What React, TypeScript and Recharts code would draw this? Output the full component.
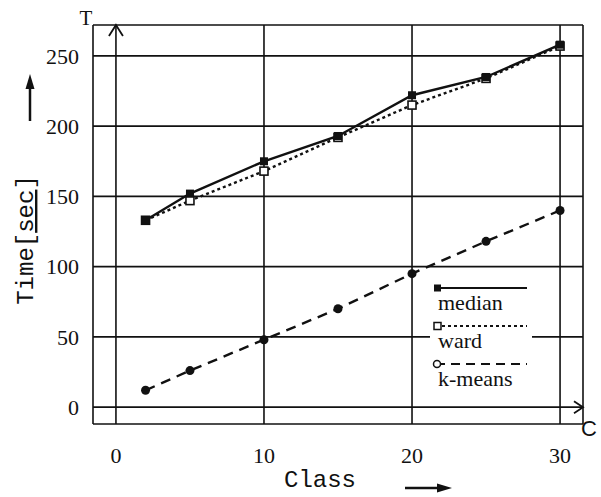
import React from 'react';
import {
  LineChart,
  Line,
  XAxis,
  YAxis,
  CartesianGrid,
  ReferenceDot,
  Legend
} from 'recharts';

const classes = [2, 5, 10, 15, 20, 25, 30];
const median = [133, 152, 175, 193, 222, 235, 258];
const ward = [133, 147, 168, 192, 215, 234, 257];
const kmeans = [12, 26, 48, 70, 95, 118, 140];
const xTicks = [0, 10, 20, 30];
const yTicks = [0, 50, 100, 150, 200, 250];
const seriesNames = ['median', 'ward', 'k-means'];

const data = classes.map((c, i) => ({
  c,
  median: median[i],
  ward: ward[i],
  kmeans: kmeans[i]
}));

const INK = '#111';
const SERIF = '"Liberation Serif", "Times New Roman", serif';
const MONO = '"Liberation Mono", "Courier New", monospace';

const FilledSquare = (props: any) => {
  const { cx, cy, index } = props;
  if (cx == null || cy == null) return null;
  return <rect key={index} x={cx - 4} y={cy - 4} width={8} height={8} fill={INK} />;
};

const OpenSquare = (props: any) => {
  const { cx, cy, index } = props;
  if (cx == null || cy == null) return null;
  return <rect key={index} x={cx - 4} y={cy - 4} width={8} height={8} fill="#fff" stroke={INK} strokeWidth={1.6} />;
};

const Circle = (props: any) => {
  const { cx, cy, index } = props;
  if (cx == null || cy == null) return null;
  return <circle key={index} cx={cx} cy={cy} r={4.5} fill={INK} />;
};

const UpChevron = (p: any) => (
  <path d={`M${p.cx - 7},${p.cy + 11} L${p.cx},${p.cy} L${p.cx + 7},${p.cy + 11}`} fill="none" stroke={INK} strokeWidth={1.8} />
);

const RightChevron = (p: any) => (
  <path d={`M${p.cx - 9},${p.cy - 6} L${p.cx},${p.cy} L${p.cx - 9},${p.cy + 6}`} fill="none" stroke={INK} strokeWidth={1.8} />
);

const YTitle = () => (
  <g>
    <text x={86} y={25} textAnchor="middle" fontFamily={SERIF} fontSize={21} fill={INK}>T</text>
    <text
      x={33}
      y={240}
      transform="rotate(-90 33 240)"
      textAnchor="middle"
      fontFamily={MONO}
      fontSize={24}
      fill={INK}
    >
      Time[<tspan textDecoration="underline">sec</tspan>]
    </text>
    <line x1={30} y1={121} x2={30} y2={86} stroke={INK} strokeWidth={2.5} />
    <path d="M30,74 L25.5,89 L34.5,89 Z" fill={INK} />
  </g>
);

const XTitle = () => (
  <g>
    <text x={320} y={487} textAnchor="middle" fontFamily={MONO} fontSize={24} fill={INK}>Class</text>
    <line x1={405} y1={488} x2={440} y2={488} stroke={INK} strokeWidth={2.5} />
    <path d="M452,488 L437,483.5 L437,492.5 Z" fill={INK} />
    <text x={589} y={436} textAnchor="middle" fontFamily='"Liberation Sans", Arial, sans-serif' fontSize={22} fill={INK}>C</text>
  </g>
);

const LegendBox = () => {
  const samples = [
    { dash: undefined, marker: 'filled' },
    { dash: '3 3', marker: 'open' },
    { dash: '9 6', marker: 'circle' }
  ];
  return (
    <svg width={102} height={116} style={{ display: 'block', background: '#fff' }}>
      {seriesNames.map((name, i) => {
        const ly = 10 + i * 38;
        const s = samples[i];
        return (
          <g key={name}>
            <line x1={6} y1={ly} x2={97} y2={ly} stroke={INK} strokeWidth={2} strokeDasharray={s.dash} />
            {s.marker === 'filled' && <rect x={4} y={ly - 3.5} width={7} height={7} fill={INK} />}
            {s.marker === 'open' && <rect x={4} y={ly - 3.5} width={7} height={7} fill="#fff" stroke={INK} strokeWidth={1.5} />}
            {s.marker === 'circle' && <circle cx={7} cy={ly} r={3.5} fill="#fff" stroke={INK} strokeWidth={1.5} />}
            <text x={8} y={ly + 22} fontFamily={SERIF} fontSize={22} fill={INK}>{name}</text>
          </g>
        );
      })}
    </svg>
  );
};

const App: React.FC = () => {
  return (
    <div style={{ position: 'absolute', left: 0, top: 0, width: 601, height: 497, background: '#fff' }}>
      <LineChart width={601} height={497} data={data} margin={{ top: 25, right: 18, left: 0, bottom: 0 }}>
        <CartesianGrid stroke={INK} strokeWidth={1.6} />
        <XAxis
          dataKey="c"
          type="number"
          domain={[-1.55, 31.55]}
          allowDataOverflow
          ticks={xTicks}
          height={73}
          axisLine={false}
          tickLine={false}
          tickMargin={17}
          tick={{ fontFamily: SERIF, fontSize: 22, fill: INK }}
          label={{ content: XTitle }}
        />
        <YAxis
          type="number"
          domain={[-12, 272]}
          allowDataOverflow
          ticks={yTicks}
          width={93}
          axisLine={false}
          tickLine={false}
          tickMargin={8}
          tick={{ fontFamily: SERIF, fontSize: 22, fill: INK }}
          label={{ content: YTitle }}
        />
        <ReferenceDot x={0} y={272} ifOverflow="visible" shape={UpChevron} />
        <ReferenceDot x={31.55} y={0} ifOverflow="visible" shape={RightChevron} />
        <Legend
          layout="horizontal"
          verticalAlign="middle"
          align="center"
          wrapperStyle={{ left: 430, top: 278, width: 102, height: 116 }}
          content={LegendBox}
        />
        <Line
          dataKey="kmeans"
          name="k-means"
          stroke={INK}
          strokeWidth={2.4}
          strokeDasharray="10 7"
          dot={Circle}
          isAnimationActive={false}
        />
        <Line
          dataKey="ward"
          name="ward"
          stroke={INK}
          strokeWidth={2.4}
          strokeDasharray="3 3"
          dot={OpenSquare}
          isAnimationActive={false}
        />
        <Line
          dataKey="median"
          name="median"
          stroke={INK}
          strokeWidth={2.4}
          dot={FilledSquare}
          isAnimationActive={false}
        />
      </LineChart>
    </div>
  );
};

export default App;
